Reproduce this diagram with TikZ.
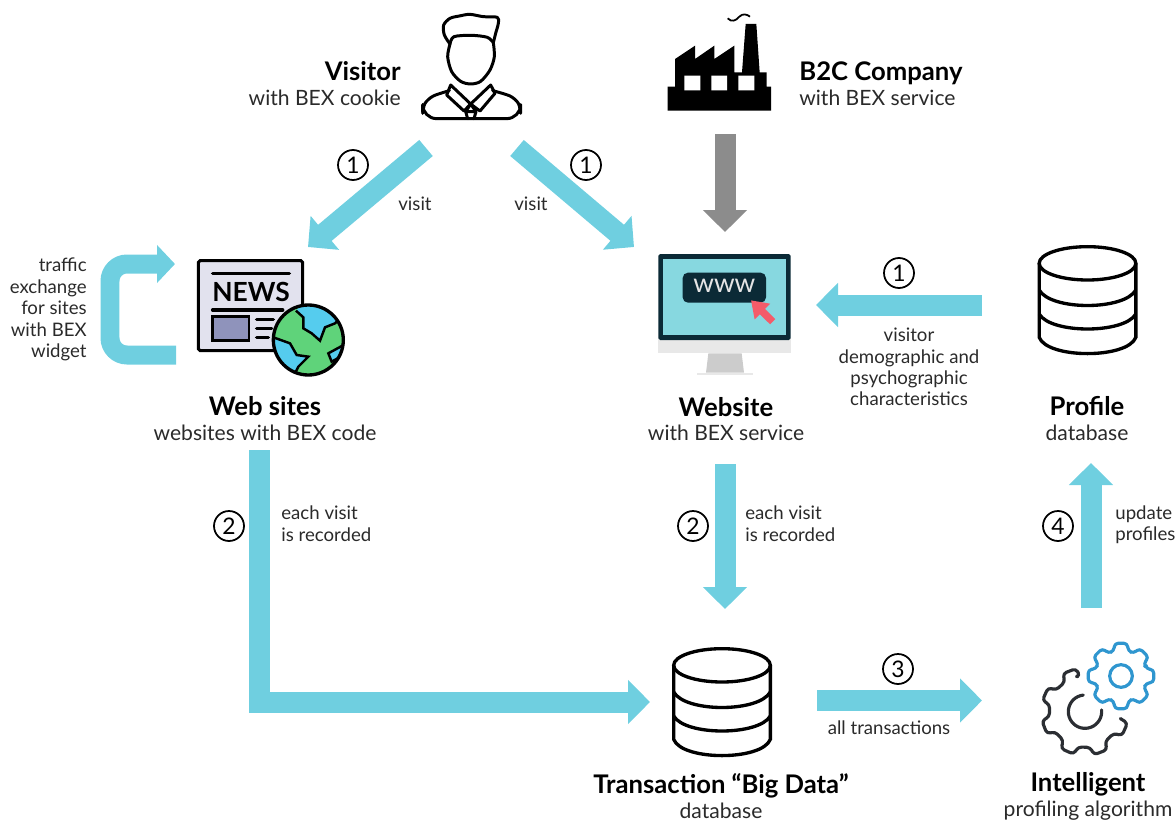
\documentclass[tikz,border=0pt]{standalone}
\usepackage{fontspec}
\setmainfont{Lato}
\usetikzlibrary{arrows.meta,positioning,calc,fit}
\definecolor{flowblue}{HTML}{6FCFE0}
\definecolor{flowgrey}{HTML}{8C8C8C}
\definecolor{gearblue}{HTML}{2F96CF}
\definecolor{geardark}{HTML}{2B2E33}
\definecolor{screendark}{HTML}{0B2A36}
\definecolor{screenblue}{HTML}{87D8E0}
\definecolor{subtext}{HTML}{2A2A2A}
\definecolor{globegreen}{HTML}{5FD37A}
\definecolor{globeblue}{HTML}{55CCEE}
\definecolor{pointerred}{HTML}{F45B69}
\newcommand{\headtxt}[1]{{\fontsize{14.6}{14.8}\selectfont\bfseries\color{black}#1}}
\tikzset{
	flowarrow/.style={flowblue,line width=0.42cm,-{Triangle[length=0.44cm,width=0.86cm]}},
	iconbox/.style={inner sep=0pt,outer sep=0pt},
	stepnum/.style={circle,draw,line width=1pt,inner sep=0pt,minimum size=0.6cm,font=\fontsize{13}{13}\selectfont},
	titletxt/.style={align=center,inner sep=0pt,text=subtext,font=\fontsize{12}{14.1}\selectfont},
	smalltxt/.style={align=center,inner sep=0pt,text=subtext,font=\fontsize{10.6}{12.2}\selectfont},
	dbicon/.pic={
		\draw[line width=1.9pt] (0,-107) ellipse[x radius=145,y radius=50];
		\draw[line width=1.9pt] (-145,-107) -- (-145,115) .. controls (-120,180) and (120,180) .. (145,115) -- (145,-107);
		\draw[line width=1.9pt] (-145,-27) .. controls (-110,35) and (110,35) .. (145,-27);
		\draw[line width=1.9pt] (-145,45) .. controls (-110,105) and (110,105) .. (145,45);
	}
}
\begin{document}
\begin{tikzpicture}[x=0.02cm,y=-0.02cm]
	\useasboundingbox (0,0) rectangle (1176,821);
	
	% Icon boxes
	\node[iconbox,fit={(426,14) (517,148)}] (visitor) {};
	\node[iconbox,fit={(676,14) (774,134)}] (company) {};
	\node[iconbox,fit={(176,247) (308,372)}] (sites) {};
	\node[iconbox,fit={(634,247) (816,363)}] (website) {};
	\node[iconbox,fit={(982,246) (1138,364)}] (profile) {};
	\node[iconbox,fit={(650,609) (800,795)}] (bigdata) {};
	\node[iconbox,fit={(982,608) (1200,793)}] (intelligent) {};
	\coordinate (sitesout) at (259,450);
	\coordinate (websiteout) at (725,464);
	\coordinate (profilein) at (1091,463);
	
	% Visitor
	\begin{scope}[shift={(400,0)},scale=1/3,line width=1.7pt,line join=round,line cap=round]
		\draw plot[smooth] coordinates {(150,132) (133,105) (131,75) (150,55) (178,48) (210,43) (250,50) (292,52) (295,70) (287,100) (280,128)};
		\draw plot[smooth] coordinates {(150,132) (162,110) (215,106) (262,112) (280,128)};
		\draw plot[smooth] coordinates {(150,132) (143,170) (155,215) (182,244) (212,252) (242,244) (270,210) (283,170) (280,128)};
		\draw (152,255) -- (140,285) -- (192,333) -- (212,312) -- (240,333) -- (285,280) -- (272,255) -- (212,312) -- cycle;
		\draw plot[smooth] coordinates {(148,272) (100,288) (75,310) (68,340)};
		\draw plot[smooth] coordinates {(278,272) (330,288) (355,310) (362,340)};
		\draw[rounded corners=8pt] (68,335) -- (68,356) -- (362,356) -- (362,335);
		\draw (212,312) -- (197,335) -- (203,356) (212,312) -- (228,335) -- (222,356) (197,335) -- (228,335);
	\end{scope}
	\node[titletxt,align=right,anchor=east] (visitortxt) at (401,83.5) {\headtxt{Visitor}\\with BEX cookie};
	
	% B2C Company
	\begin{scope}[shift={(400,0)},scale=1/3]
		\fill (803,332) -- (803,260) -- (825,260) -- (825,177) -- (885,137) -- (885,177) -- (943,137) -- (943,177) -- (1003,137) -- (1003,217) -- (1026,217) -- (1037,72) -- (1069,72) -- (1079,217) -- (1100,217) -- (1100,260) -- (1113,260) -- (1113,332) -- cycle;
		\fill[white] (853,227) rectangle (901,271) (934,227) rectangle (981,271) (1015,227) rectangle (1063,271);
		\draw[line width=1pt] (983,55) .. controls (995,68) and (1008,62) .. (1018,50) .. controls (1028,40) and (1040,42) .. (1050,50);
	\end{scope}
	\node[titletxt,align=left,anchor=west] (companytxt) at (799,83.5) {\headtxt{B2C Company}\\with BEX service};
	
	% Web sites
	\begin{scope}[shift={(90,240)},scale=1/3]
		\draw[line width=1.7pt,fill={rgb,255:red,226;green,226;blue,238},rounded corners=1pt] (325,62) rectangle (638,332);
		\draw[line width=2pt,line cap=round] (368,100) -- (598,100) (368,210) -- (578,210) (500,238) -- (550,238) (500,265) -- (545,265) (500,293) -- (535,293);
		\draw[line width=1.7pt,fill={rgb,255:red,143;green,147;blue,187}] (368,230) rectangle (477,302);
		\node[font=\fontsize{15}{15}\selectfont\bfseries,inner sep=0pt] (newstxt) at (483,155) {NEWS};
		\begin{scope}
			\clip (655,300) circle[radius=105];
			\fill[globegreen] (655,300) circle[radius=105];
			\fill[globeblue] (618,212) -- (640,232) -- (640,265) -- (665,280) -- (690,302) -- (705,262) -- (735,250) -- (750,235) -- (700,190) -- (640,190) -- cycle;
			\fill[globeblue] (550,292) -- (600,310) -- (620,345) -- (655,350) -- (625,380) -- (615,400) -- (560,370) -- (540,320) -- cycle;
			\fill[globeblue] (770,310) -- (715,340) -- (725,365) -- (770,340) -- cycle;
			\draw[line width=1.4pt] (618,212) -- (640,232) -- (640,265) -- (665,280) -- (690,302) -- (705,262) -- (735,250) -- (750,235);
			\draw[line width=1.4pt] (550,292) -- (600,310) -- (620,345) -- (655,350) -- (625,380) -- (615,400);
			\draw[line width=1.4pt] (770,310) -- (715,340) -- (725,365) -- (770,340);
		\end{scope}
		\draw[line width=1.9pt] (655,300) circle[radius=105];
	\end{scope}
	\node[titletxt] (sitestxt) at (265,418.5) {\headtxt{Web sites}\\websites with BEX code};
	
	% Website
	\begin{scope}[shift={(640,240)},scale=1/3]
		\fill[black!9] (55,295) rectangle (452,340);
		\fill[black!20] (205,340) -- (305,340) -- (312,398) -- (198,398) -- cycle;
		\fill[black!9] (170,398) rectangle (338,404);
		\fill[screendark,rounded corners=1pt] (55,42) rectangle (452,300);
		\fill[screenblue] (70,58) rectangle (438,286);
		\fill[screendark,rounded corners=3pt] (128,98) rectangle (378,188);
		\node[text=white!90!black,font=\fontsize{15}{15}\selectfont,inner sep=0pt] (wwwtxt) at (253,137) {www};
		\draw[pointerred,line width=4.2pt,-{Triangle[length=0.32cm,width=0.42cm]}] (398,245) -- (333,181);
	\end{scope}
	\node[titletxt] (websitetxt) at (726,419) {\headtxt{Website}\\with BEX service};
	
	% Profile
	\pic[scale=1/3] at (1087.5,299) {dbicon};
	\node[titletxt] (profiletxt) at (1087,418.5) {\headtxt{Profile}\\database};
	
	% Transaction
	\pic[scale=1/3] at (722,701) {dbicon};
	\node[titletxt] (bigdatatxt) at (721,796) {\headtxt{Transaction “Big Data”}\\database};
	
	% Intelligent
	\begin{scope}[shift={(1020,630)},scale=1/3]
		\begin{scope}[shift={(303,138)},gearblue,line width=1.8pt,line join=round]
			\draw[rounded corners=2pt] (-16:78) \foreach \a in {0,45,...,315} { -- ({\a-16}:78) -- ({\a-11}:100) -- ({\a+11}:100) -- ({\a+16}:78) } -- cycle;
			\draw (0,0) circle[radius=34];
		\end{scope}
		\begin{scope}[shift={(195,245)},geardark,line width=1.8pt,line join=round,line cap=round]
			\draw[rounded corners=2pt] (259:108) \foreach \a in {249,204,159,114,69,24} { -- ({\a+13}:108) -- ({\a+9}:132) -- ({\a-9}:132) -- ({\a-13}:108) };
			\draw plot[smooth,domain=-6:264,samples=30] (\x:50);
		\end{scope}
	\end{scope}
	\node[titletxt] (intelligenttxt) at (1088,796) {\headtxt{Intelligent}\\profiling algorithm};
	
	% Connectors
	\draw[flowarrow] (visitor.south west) -- (sites.north east);
	\draw[flowarrow] (visitor.south east) -- (website.north west);
	\draw[flowarrow,flowgrey] (company.south) -- ([shift={(0,-15)}]website.north);
	\draw[flowarrow] (profile.west) -- (website.east);
	\draw[flowarrow] (sitesout) |- (bigdata.west);
	\draw[flowarrow] (websiteout) -- (bigdata.north);
	\draw[flowarrow] ([shift={(17,-1.5)}]bigdata.east) -- (intelligent.west);
	\draw[flowarrow] (intelligent.north) -- (profilein);
	\draw[flowblue,line width=0.38cm,rounded corners=0.34cm,-{Triangle[length=0.36cm,width=0.74cm]}] ([shift={(0,45.5)}]sites.west) -- ++(-66,0) -- ++(0,-91) -- ([shift={(-1,-45.5)}]sites.west);
	
	% Step numbers
	\node[stepnum] (stepa) at (353,165) {1};
	\node[stepnum] (stepb) at (586,165) {1};
	\node[stepnum] (stepc) at (899,273) {1};
	\node[stepnum] (stepd) at (229,526) {2};
	\node[stepnum] (stepe) at (693,526) {2};
	\node[stepnum] (stepf) at (898,669) {3};
	\node[stepnum] (stepg) at (1058,526) {4};
	
	% Labels
	\node[smalltxt] (visita) at (415,204) {visit};
	\node[smalltxt] (visitb) at (531,204) {visit};
	\node[smalltxt,align=right,anchor=east] (traffic) at (87,309.5) {traffic\\exchange\\for sites\\with BEX\\widget};
	\node[smalltxt] (traits) at (909,367) {visitor\\demographic and\\psychographic\\characteristics};
	\node[smalltxt,align=left,anchor=west] (recorda) at (281,523.5) {each visit\\is recorded};
	\node[smalltxt,align=left,anchor=west] (recordb) at (745,523.5) {each visit\\is recorded};
	\node[smalltxt,align=left,anchor=west] (update) at (1115,524.5) {update\\profiles};
	\node[smalltxt] (alltrans) at (889,728) {all transactions};
\end{tikzpicture}
\end{document}
